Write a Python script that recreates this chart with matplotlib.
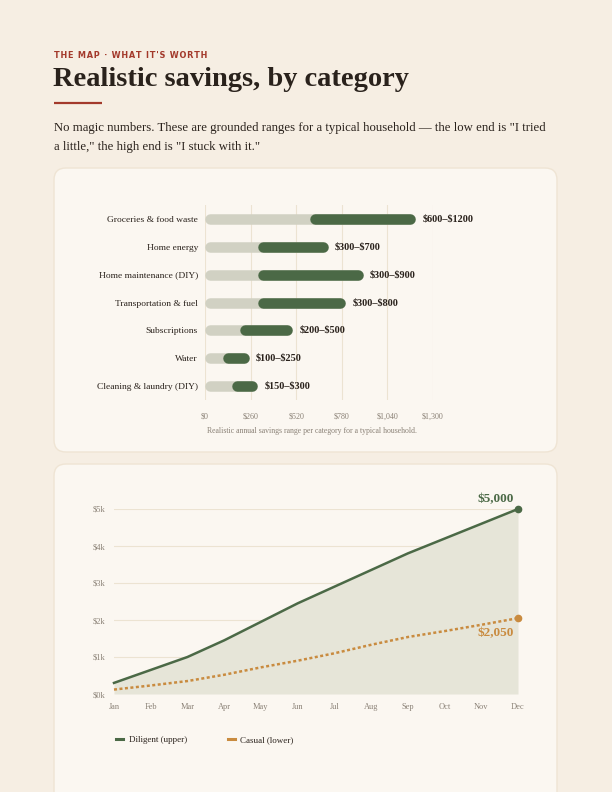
import matplotlib
matplotlib.use("Agg")
import matplotlib.pyplot as plt
from matplotlib.patches import FancyBboxPatch
from matplotlib.lines import Line2D

# data
categories = ["Groceries & food waste", "Home energy", "Home maintenance (DIY)",
              "Transportation & fuel", "Subscriptions", "Water", "Cleaning & laundry (DIY)"]
low = [600, 300, 300, 300, 200, 100, 150]
high = [1200, 700, 900, 800, 500, 250, 300]
bar_ticks = [0, 260, 520, 780, 1040, 1300]
bar_tick_labels = ["\\$0", "\\$260", "\\$520", "\\$780", "\\$1,040", "\\$1,300"]

months = ["Jan", "Feb", "Mar", "Apr", "May", "Jun", "Jul", "Aug", "Sep", "Oct", "Nov", "Dec"]
diligent = [300, 650, 1000, 1450, 1950, 2450, 2900, 3350, 3800, 4200, 4600, 5000]
casual = [120, 230, 350, 520, 720, 900, 1100, 1330, 1540, 1700, 1870, 2050]
y_ticks = [0, 1000, 2000, 3000, 4000, 5000]
y_tick_labels = ["\\$0k", "\\$1k", "\\$2k", "\\$3k", "\\$4k", "\\$5k"]

# colours
page_bg = "#f6eee3"
card_bg = "#fbf7f1"
card_edge = "#efe4d4"
red = "#a3392b"
ink = "#2a221c"
green = "#4b6946"
track = "#d1d1c3"
orange = "#c98b3f"
fill_c = "#e6e5d8"
grid_c = "#ece3d2"
muted = "#8a8176"

serif = "Liberation Serif"

W, H = 612, 792
fig = plt.figure(figsize=(W / 100, H / 100), dpi=100, facecolor=page_bg)

# background axes in pixel units
bg = fig.add_axes([0, 0, 1, 1])
bg.set_xlim(0, W)
bg.set_ylim(H, 0)
bg.axis("off")
bg.set_zorder(-1)

for (x0, y0, x1, y1) in [(54, 168, 557, 452), (54, 464, 557, 820)]:
    bg.add_patch(FancyBboxPatch((x0, y0), x1 - x0, y1 - y0,
                                boxstyle="round,pad=0,rounding_size=12",
                                fc=card_bg, ec=card_edge, lw=1.0))

eyebrow = "THE MAP · WHAT IT'S WORTH"
bg.text(54, 55, "\u200a".join(eyebrow), color=red, fontsize=5.9,
        fontweight="bold", family="DejaVu Sans", va="center", ha="left")
bg.text(53, 80, "Realistic savings, by category", color=ink, fontsize=20.5,
        fontweight="bold", family=serif, va="center", ha="left")
bg.plot([54, 102], [102.5, 102.5], color=red, lw=1.6, solid_capstyle="butt")
bg.text(54, 128, 'No magic numbers. These are grounded ranges for a typical household \u2014 the low end is "I tried',
        color=ink, fontsize=9.2, family=serif, va="center", ha="left")
bg.text(54, 147, 'a little," the high end is "I stuck with it."',
        color=ink, fontsize=9.2, family=serif, va="center", ha="left")
bg.text(312, 431, "Realistic annual savings range per category for a typical household.",
        color=muted, fontsize=5.6, family=serif, va="center", ha="center")


def px_axes(x0, y0, x1, y1):
    return fig.add_axes([x0 / W, 1 - y1 / H, (x1 - x0) / W, (y1 - y0) / H])


# bar chart
ax = px_axes(205, 205, 433, 400)
ax.set_xlim(0, 1300)
ax.set_ylim(len(categories) - 0.5, -0.5)
ax.patch.set_alpha(0)
for s in ax.spines.values():
    s.set_visible(False)
ax.set_xticks(bar_ticks)
ax.set_xticklabels(bar_tick_labels, family=serif, fontsize=5.8, color=muted)
ax.tick_params(axis="x", length=0, pad=9)
ax.set_yticks(range(len(categories)))
ax.set_yticklabels(categories, family=serif, fontsize=6.8, color=ink)
ax.tick_params(axis="y", length=0, pad=5)
ax.grid(axis="x", color=grid_c, lw=0.8)
ax.set_axisbelow(True)

bar_px = 10.5
r = (bar_px / 2) * 1300 / 228.0  # cap radius in data units
lw_pt = bar_px * 72 / 100
for i in range(len(categories)):
    ax.plot([0 + r, high[i] - r], [i, i], color=track, lw=lw_pt, solid_capstyle="round")
    ax.plot([low[i] + r, high[i] - r], [i, i], color=green, lw=lw_pt, solid_capstyle="round")
    ax.annotate(f"\\${low[i]}\u2013\\${high[i]}", (high[i], i), xytext=(5, 0),
                textcoords="offset points", va="center", ha="left",
                family=serif, fontweight="bold", fontsize=7.4, color=ink)

# line chart
ax2 = px_axes(114, 509, 518, 694)
x = list(range(len(months)))
ax2.set_xlim(0, len(months) - 1)
ax2.set_ylim(0, 5000)
ax2.patch.set_alpha(0)
for s in ax2.spines.values():
    s.set_visible(False)
ax2.set_yticks(y_ticks)
ax2.set_yticklabels(y_tick_labels, family=serif, fontsize=6, color=muted)
ax2.set_xticks(x)
ax2.set_xticklabels(months, family=serif, fontsize=6, color=muted)
ax2.tick_params(length=0)
ax2.tick_params(axis="x", pad=6.5)
ax2.tick_params(axis="y", pad=6)
ax2.grid(axis="y", color=grid_c, lw=0.8)
ax2.set_axisbelow(True)

ax2.fill_between(x, 0, diligent, color=fill_c, lw=0, zorder=1)
ax2.plot(x, diligent, color=green, lw=1.8, zorder=3, clip_on=False)
ax2.plot(x, casual, color=orange, lw=1.8, ls=(0, (1.2, 1.0)), zorder=3, clip_on=False)
ax2.plot(x[-1], diligent[-1], "o", color=green, ms=4.5, zorder=4, clip_on=False)
ax2.plot(x[-1], casual[-1], "o", color=orange, ms=4.5, zorder=4, clip_on=False)
ax2.annotate(f"\\${diligent[-1]:,}", (x[-1], diligent[-1]), xytext=(-3, 2.5),
             textcoords="offset points", ha="right", va="bottom",
             family=serif, fontweight="bold", fontsize=9.5, color=green)
ax2.annotate(f"\\${casual[-1]:,}", (x[-1], casual[-1]), xytext=(-3, -6.5),
             textcoords="offset points", ha="right", va="top",
             family=serif, fontweight="bold", fontsize=9.5, color=orange)

handles = [Line2D([], [], color=green, lw=2.2), Line2D([], [], color=orange, lw=2.2)]
fig.legend(handles, ["Diligent (upper)", "Casual (lower)"], loc="center left",
           bbox_to_anchor=(108 / W, 1 - 740 / H), ncol=2, frameon=False,
           handlelength=0.8, handletextpad=0.6, columnspacing=4.5,
           prop={"family": serif, "size": 6.5}, labelcolor=ink)

fig.savefig("out.png", dpi=100, facecolor=page_bg)
